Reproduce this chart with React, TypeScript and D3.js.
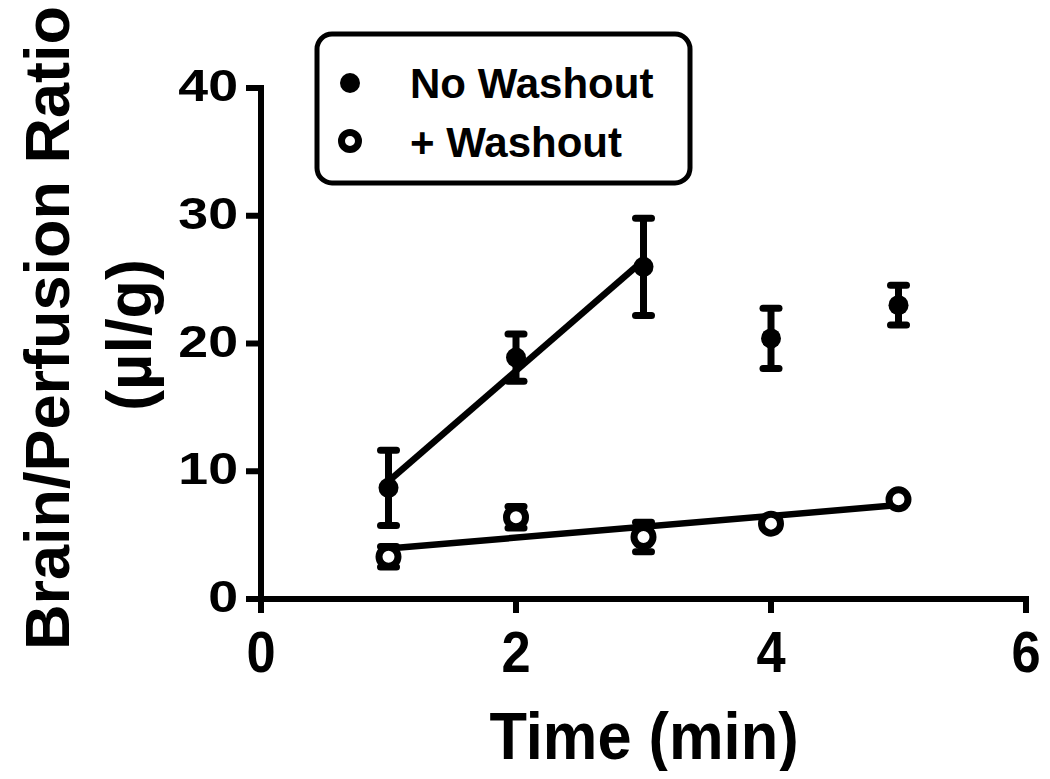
import React, { useRef, useEffect } from 'react';
import * as d3 from 'd3';

// time points (min)
const times = [1, 2, 3, 4, 5];
// No Washout: mean and SEM
const noWashMean = [8.7, 18.9, 26.0, 20.4, 23.0];
const noWashErr = [2.95, 1.85, 3.8, 2.35, 1.55];
// + Washout: mean and SEM
const washMean = [3.3, 6.4, 4.85, 5.9, 7.8];
const washErr = [0.8, 0.85, 1.15, 0.3, 0.3];
// points used for each regression line
const noWashFitCount = 3;
const washFitCount = 5;

const xTicks = [0, 2, 4, 6];
const yTicks = [0, 10, 20, 30, 40];
const legendLabels = ['No Washout', '+ Washout'];

const FONT = '"Liberation Sans", Arial, Helvetica, sans-serif';

function fit(xs: number[], ys: number[]) {
  const mx = d3.mean(xs) as number;
  const my = d3.mean(ys) as number;
  let num = 0, den = 0;
  xs.forEach((x, i) => { num += (x - mx) * (ys[i] - my); den += (x - mx) * (x - mx); });
  const slope = num / den;
  return { slope, intercept: my - slope * mx };
}

function Chart() {
  const canvas = useRef<HTMLDivElement>(null);

  useEffect(() => {
    d3.select(canvas.current).select('svg').remove();

    const svg = d3.select(canvas.current)
      .append('svg')
      .attr('width', 1050)
      .attr('height', 779)
      .style('display', 'block')
      .style('background', '#fff');

    const x = d3.scaleLinear().domain([0, 6]).range([261, 1026]);
    const y = d3.scaleLinear().domain([0, 40]).range([599, 88]);

    const black = '#000';

    // y axis
    svg.append('line')
      .attr('x1', x(0)).attr('x2', x(0))
      .attr('y1', y(40) - 3).attr('y2', y(0) + 14)
      .attr('stroke', black).attr('stroke-width', 6);
    svg.selectAll('.ytick')
      .data(yTicks).enter().append('line')
      .attr('x1', x(0) - 15).attr('x2', x(0))
      .attr('y1', d => y(d)).attr('y2', d => y(d))
      .attr('stroke', black).attr('stroke-width', 6);
    svg.selectAll('.ylab')
      .data(yTicks).enter().append('text')
      .attr('transform', d => `translate(238,${y(d) + 13}) scale(1.22,1)`)
      .attr('text-anchor', 'end')
      .style('font-family', FONT).style('font-weight', 'bold').style('font-size', '44px')
      .text(d => d);

    // x axis
    svg.append('line')
      .attr('x1', x(0)).attr('x2', x(6) + 3)
      .attr('y1', y(0)).attr('y2', y(0))
      .attr('stroke', black).attr('stroke-width', 6);
    svg.selectAll('.xtick')
      .data(xTicks).enter().append('line')
      .attr('x1', d => x(d)).attr('x2', d => x(d))
      .attr('y1', y(0)).attr('y2', y(0) + 14)
      .attr('stroke', black).attr('stroke-width', 6);
    svg.selectAll('.xlab')
      .data(xTicks).enter().append('text')
      .attr('transform', d => `translate(${x(d)},672) scale(0.92,1)`)
      .attr('text-anchor', 'middle')
      .style('font-family', FONT).style('font-weight', 'bold').style('font-size', '57px')
      .text(d => d);

    // axis titles
    svg.append('text')
      .attr('transform', 'translate(644,759) scale(0.93,1)')
      .attr('text-anchor', 'middle')
      .style('font-family', FONT).style('font-weight', 'bold').style('font-size', '66px')
      .text('Time (min)');
    svg.append('text')
      .attr('transform', 'translate(69,328) rotate(-90)')
      .attr('text-anchor', 'middle')
      .style('font-family', FONT).style('font-weight', 'bold').style('font-size', '63px')
      .text('Brain/Perfusion Ratio');
    svg.append('text')
      .attr('transform', 'translate(151,335) rotate(-90)')
      .attr('text-anchor', 'middle')
      .style('font-family', FONT).style('font-weight', 'bold').style('font-size', '63px')
      .text('(\u00b5l/g)');

    // regression lines
    const line = d3.line<number[]>().x(d => x(d[0])).y(d => y(d[1]));
    const drawFit = (means: number[], n: number) => {
      const xs = times.slice(0, n);
      const f = fit(xs, means.slice(0, n));
      const x0 = xs[0], x1 = xs[n - 1];
      svg.append('path')
        .datum([[x0, f.intercept + f.slope * x0], [x1, f.intercept + f.slope * x1]])
        .attr('d', line)
        .attr('fill', 'none').attr('stroke', black).attr('stroke-width', 6.5);
    };
    drawFit(noWashMean, noWashFitCount);
    drawFit(washMean, washFitCount);

    // error bars
    const drawErr = (means: number[], errs: number[]) => {
      const g = svg.append('g').attr('stroke', black).attr('stroke-width', 7);
      times.forEach((t, i) => {
        const top = y(means[i] + errs[i]);
        const bot = y(means[i] - errs[i]);
        g.append('line').attr('x1', x(t)).attr('x2', x(t)).attr('y1', top).attr('y2', bot);
        [top, bot].forEach(v => {
          g.append('line')
            .attr('x1', x(t) - 8).attr('x2', x(t) + 8)
            .attr('y1', v).attr('y2', v)
            .attr('stroke-linecap', 'round');
        });
      });
    };
    drawErr(noWashMean, noWashErr);
    drawErr(washMean, washErr);

    // markers
    svg.selectAll('.filled')
      .data(times).enter().append('circle')
      .attr('cx', d => x(d)).attr('cy', (d, i) => y(noWashMean[i]))
      .attr('r', 10).attr('fill', black);
    svg.selectAll('.open')
      .data(times).enter().append('circle')
      .attr('cx', d => x(d)).attr('cy', (d, i) => y(washMean[i]))
      .attr('r', 9.5).attr('fill', '#fff').attr('stroke', black).attr('stroke-width', 7);

    // legend
    svg.append('rect')
      .attr('x', 317).attr('y', 34).attr('width', 373).attr('height', 149)
      .attr('rx', 15).attr('ry', 15)
      .attr('fill', '#fff').attr('stroke', black).attr('stroke-width', 5);
    svg.append('circle').attr('cx', 350).attr('cy', 83).attr('r', 10).attr('fill', black);
    svg.append('circle').attr('cx', 350).attr('cy', 141).attr('r', 8.5)
      .attr('fill', '#fff').attr('stroke', black).attr('stroke-width', 7);
    svg.selectAll('.leg')
      .data(legendLabels).enter().append('text')
      .attr('x', 410).attr('y', (d, i) => 98 + i * 59)
      .style('font-family', FONT).style('font-weight', 'bold').style('font-size', '42px')
      .text(d => d);
  }, []);

  return <div ref={canvas}></div>;
}

export default function App() {
  return (
    <div style={{ margin: -8 }}>
      <Chart />
    </div>
  );
}
